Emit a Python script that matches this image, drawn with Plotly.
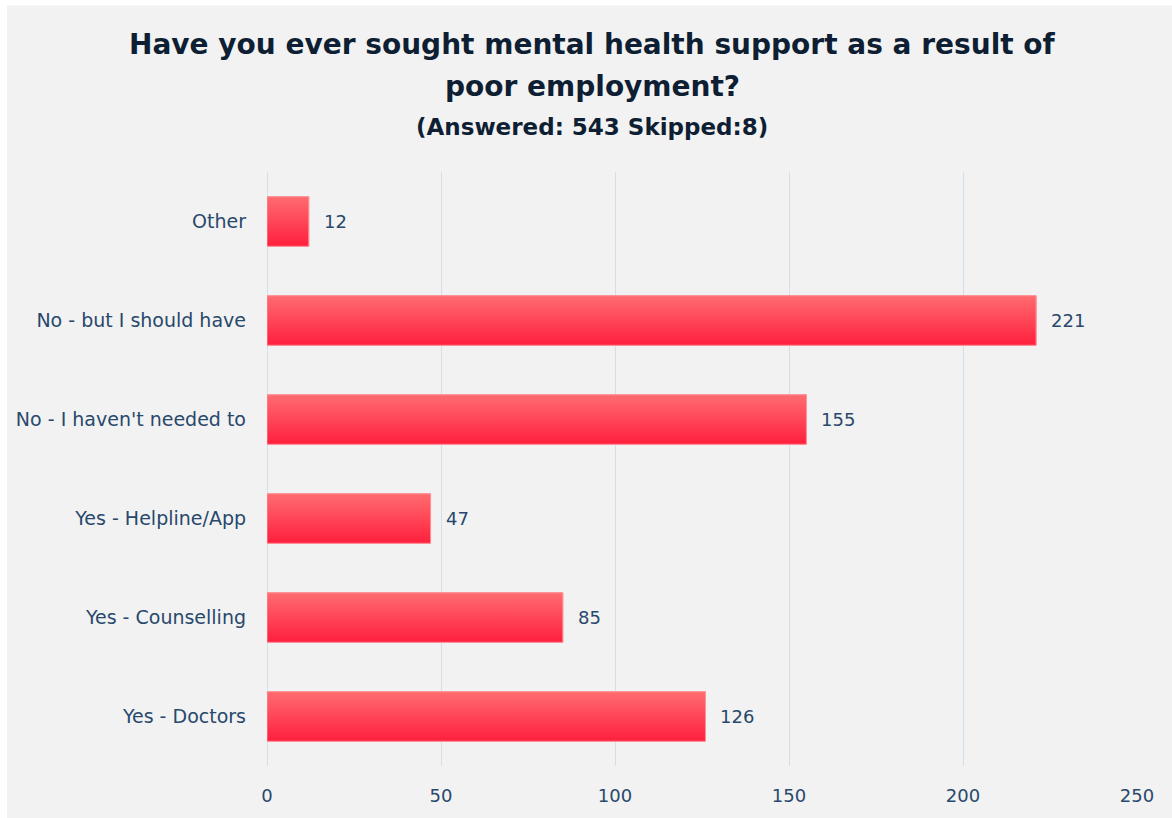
import plotly.graph_objects as go

categories = ["Other", "No - but I should have", "No - I haven't needed to",
              "Yes - Helpline/App", "Yes - Counselling", "Yes - Doctors"]
values = [12, 221, 155, 47, 85, 126]
x_ticks = [0, 50, 100, 150, 200, 250]

title_line1 = "Have you ever sought mental health support as a result of"
title_line2 = "poor employment?"
title_sub = "(Answered: 543 Skipped:8)"

FONT = "DejaVu Sans, Verdana, sans-serif"
LABEL_COLOR = "#28486c"
TITLE_COLOR = "#0e1e33"

W, H = 1172, 818
ML, MR, MT, MB = 267, 35, 172, 50
PW, PH = W - ML - MR, H - MT - MB

BAR_H = 0.5
n = len(categories)
ypos = list(range(n))

fig = go.Figure()

fig.add_trace(go.Bar(
    x=values, y=ypos, orientation="h", width=BAR_H,
    marker=dict(color="#ff4254", line=dict(color="#ff9095", width=1)),
    hoverinfo="x+y", showlegend=False,
))

# gradient overlay per bar (top lighter -> bottom darker)
for i, v in enumerate(values):
    y0, y1 = i - BAR_H / 2, i + BAR_H / 2
    fig.add_trace(go.Scatter(
        x=[0, v, v, 0, 0], y=[y0, y0, y1, y1, y0],
        mode="lines", line=dict(width=1, color="rgba(255,150,155,0.9)"),
        fill="toself",
        fillgradient=dict(type="vertical",
                          colorscale=[[0, "#ff1f3d"], [1, "#ff6c70"]]),
        hoverinfo="skip", showlegend=False,
    ))

annotations = []
for i, v in enumerate(values):
    annotations.append(dict(
        x=v, y=i, xref="x", yref="y", text=str(v), showarrow=False,
        xanchor="left", xshift=13,
        font=dict(family=FONT, size=18, color=LABEL_COLOR),
    ))

title_cx = (592 - ML) / PW
for txt, center_y, size in [(title_line1, 44, 28), (title_line2, 86, 28), (title_sub, 127, 23)]:
    annotations.append(dict(
        x=title_cx, y=1, xref="paper", yref="paper", xanchor="center", yanchor="middle",
        text="<b>" + txt + "</b>", showarrow=False, yshift=MT - center_y,
        font=dict(family=FONT, size=size, color=TITLE_COLOR),
    ))

fig.update_layout(
    width=W, height=H,
    margin=dict(l=ML, r=MR, t=MT, b=MB),
    paper_bgcolor="#f2f2f2", plot_bgcolor="#f2f2f2",
    annotations=annotations,
    xaxis=dict(
        range=[0, 250], tickvals=x_ticks, ticktext=[str(t) for t in x_ticks],
        showgrid=True, gridcolor="#d2e0ec", gridwidth=1.3,
        zeroline=True, zerolinecolor="#d2e0ec", zerolinewidth=1.3,
        showline=False, ticks="", ticklabelstandoff=17,
        tickfont=dict(family=FONT, size=18, color=LABEL_COLOR),
        fixedrange=True,
    ),
    yaxis=dict(
        range=[n - 0.5, -0.5], tickvals=ypos, ticktext=categories,
        showgrid=False, zeroline=False, showline=False, ticks="",
        ticklabelstandoff=20,
        tickfont=dict(family=FONT, size=19, color=LABEL_COLOR),
        fixedrange=True,
    ),
    shapes=[
        dict(type="rect", xref="paper", yref="paper",
             x0=-ML / PW - 0.01, x1=1 + MR / PW + 0.01,
             y0=1 + (MT - 5) / PH, y1=1 + MT / PH + 0.01,
             fillcolor="white", line=dict(width=0), layer="above"),
        dict(type="rect", xref="paper", yref="paper",
             x0=-ML / PW - 0.01, x1=-(ML - 7) / PW,
             y0=-MB / PH - 0.01, y1=1 + MT / PH + 0.01,
             fillcolor="white", line=dict(width=0), layer="above"),
    ],
)

fig.write_html("out.html")
